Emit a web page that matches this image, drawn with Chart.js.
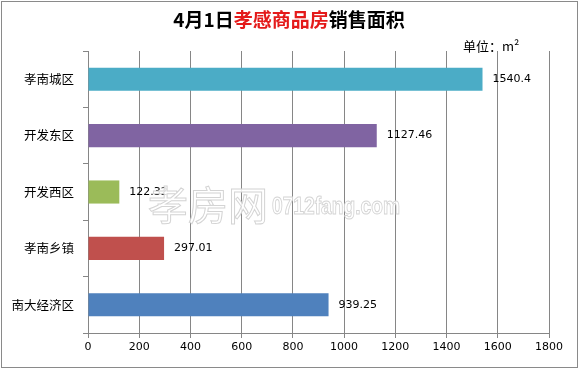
<!DOCTYPE html>
<html>
<head>
<meta charset="utf-8">
<script src="https://cdn.jsdelivr.net/npm/chart.js@4/dist/chart.umd.min.js"></script>
<style>
html,body{margin:0;padding:0;background:#fff;}
#wrap{position:relative;width:579px;height:369px;}
</style>
</head>
<body>
<div id="wrap"><canvas id="c" width="579" height="369"></canvas></div>
<script>
const categories = ['孝南城区', '开发东区', '开发西区', '孝南乡镇', '南大经济区'];
const areaValues = [1540.4, 1127.46, 122.32, 297.01, 939.25];
const barColors = ['#4BACC6', '#8064A2', '#9BBB59', '#C0504D', '#4F81BD'];
const xTicks = [0, 200, 400, 600, 800, 1000, 1200, 1400, 1600, 1800];
const titleParts = [['4月1日', '#000000'], ['孝感商品房', '#E41A1A'], ['销售面积', '#000000']];
const unitText = '单位：m²';
const watermark = ['孝房网', '0712fang.com'];

const CJK = '"Noto Sans CJK SC", "Microsoft YaHei", sans-serif';
const GRID = '#868686';

const decor = {
  id: 'decor',
  beforeDraw(chart) {
    const ctx = chart.ctx;
    ctx.save();
    ctx.fillStyle = '#fff';
    ctx.fillRect(0, 0, chart.width, chart.height);
    ctx.strokeStyle = '#8a8a8a';
    ctx.lineWidth = 1;
    ctx.strokeRect(1.5, 1.5, chart.width - 3, chart.height - 3);
    // title
    ctx.font = 'bold 19px ' + CJK;
    ctx.textBaseline = 'middle';
    let total = 0;
    titleParts.forEach(p => total += ctx.measureText(p[0]).width);
    let x = 289 - total / 2;
    titleParts.forEach(p => {
      ctx.fillStyle = p[1];
      ctx.textAlign = 'left';
      ctx.fillText(p[0], x, 20);
      x += ctx.measureText(p[0]).width;
    });
    ctx.restore();
  },
  afterDraw(chart) {
    const ctx = chart.ctx;
    const meta = chart.getDatasetMeta(0);
    ctx.save();
    ctx.font = '11px "DejaVu Sans", sans-serif';
    ctx.fillStyle = '#000';
    ctx.textBaseline = 'middle';
    ctx.textAlign = 'left';
    meta.data.forEach((bar, i) => {
      ctx.fillText(String(areaValues[i]), bar.x + 10, bar.y);
    });
    // unit
    ctx.font = '13px ' + CJK;
    ctx.fillText(unitText, 463, 46);
    // watermark
    ctx.lineWidth = 1;
    ctx.strokeStyle = '#d4d4d4';
    ctx.fillStyle = 'rgba(255,255,255,0.85)';
    ctx.font = '40px ' + CJK;
    ctx.textBaseline = 'middle';
    ctx.fillText(watermark[0], 148, 205);
    ctx.strokeText(watermark[0], 148, 205);
    ctx.translate(272, 207);
    ctx.scale(0.8, 1);
    ctx.font = 'bold 24px "Liberation Sans", sans-serif';
    ctx.fillText(watermark[1], 0, 0);
    ctx.strokeText(watermark[1], 0, 0);
    ctx.restore();
  }
};

new Chart(document.getElementById('c'), {
  type: 'bar',
  data: {
    labels: categories,
    datasets: [{
      data: areaValues,
      backgroundColor: barColors,
      borderWidth: 0,
      barPercentage: 0.41,
      categoryPercentage: 1
    }]
  },
  options: {
    indexAxis: 'y',
    responsive: false,
    animation: false,
    events: [],
    layout: { padding: { left: 0, right: 30, top: 51, bottom: 0 } },
    plugins: {
      legend: { display: false },
      title: { display: false },
      tooltip: { enabled: false }
    },
    scales: {
      x: {
        min: 0,
        max: 1800,
        afterBuildTicks(scale) { scale.ticks = xTicks.map(v => ({ value: v })); },
        afterFit(scale) { scale.height = 36; },
        grid: { color: GRID, lineWidth: 1, drawOnChartArea: true, drawTicks: true, tickLength: 5, tickColor: GRID },
        border: { color: GRID, width: 1 },
        ticks: {
          color: '#000',
          font: { size: 11, family: '"DejaVu Sans", sans-serif' },
          padding: 3,
          maxRotation: 0,
          callback: v => String(v)
        }
      },
      y: {
        offset: true,
        afterFit(scale) { scale.width = 88; },
        grid: { offset: true, drawOnChartArea: false, drawTicks: true, tickLength: 5, color: GRID, tickColor: GRID },
        border: { color: GRID, width: 1 },
        ticks: { color: '#000', font: { size: 12.5, family: CJK }, padding: 9 }
      }
    }
  },
  plugins: [decor]
});
</script>
</body>
</html>
